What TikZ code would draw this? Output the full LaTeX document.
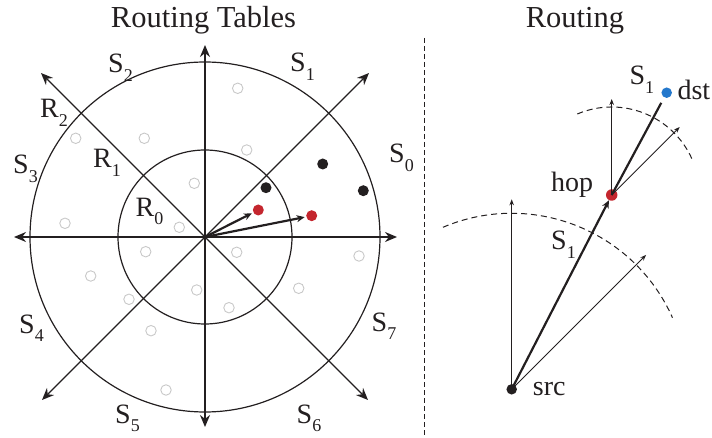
\documentclass[tikz,border=0pt]{standalone}
\usepackage{fontspec}
\setmainfont{Liberation Serif}
\usetikzlibrary{arrows.meta,calc}
\definecolor{ink}{RGB}{35,31,32}
\definecolor{dotred}{RGB}{196,38,46}
\definecolor{dotblue}{RGB}{36,120,204}
\definecolor{hollowgray}{RGB}{200,200,200}
\newcommand\subs[1]{\raisebox{-8.5pt}{\fontsize{18}{18}\selectfont #1}}
\tikzset{
  lab/.style={inner sep=0pt, anchor=base west, font=\fontsize{28}{28}\selectfont, text=ink},
  ttl/.style={inner sep=0pt, anchor=base, font=\fontsize{30.5}{31}\selectfont, text=ink},
  axis/.style={draw=ink, line width=1.4pt, -{Stealth[length=12pt,width=10pt]}},
  ring/.style={draw=ink, line width=1.2pt},
  thickarr/.style={draw=ink, line width=2.2pt, -{Stealth[length=8pt,width=7pt]}},
  thinarr/.style={draw=ink, line width=0.9pt, -{Stealth[length=6pt,width=4.5pt]}},
  dasharc/.style={draw=ink, line width=1pt, dash pattern=on 6pt off 4pt},
  hollow/.style={circle, draw=hollowgray, line width=0.9pt, minimum size=10.5pt, inner sep=0pt},
  dotb/.style={circle, fill=ink, minimum size=11pt, inner sep=0pt},
  dotr/.style={circle, fill=dotred, minimum size=11pt, inner sep=0pt},
  dotu/.style={circle, fill=dotblue, minimum size=10.5pt, inner sep=0pt},
}
\begin{document}
\begin{tikzpicture}[x=1pt,y=-1pt]
\useasboundingbox (0,0) rectangle (712,438);
% titles
\node[ttl] (t1) at (203.5,28) {Routing Tables};
\node[ttl] (t2) at (575,28) {Routing};
% ---- left: routing tables ----
\coordinate (o) at (205,237);
\draw[ring] (o) circle[radius=175pt];
\draw[ring] (o) circle[radius=87pt];
\coordinate (tN) at (205,45);
\coordinate (tS) at (205,427);
\coordinate (tW) at (14,237);
\coordinate (tE) at (397,237);
\coordinate (tNE) at (369,73);
\coordinate (tNW) at (41,73);
\coordinate (tSW) at (42,400);
\coordinate (tSE) at (368,400);
\foreach \t in {tN,tS,tW,tE,tNE,tNW,tSW,tSE} \draw[axis] (o) -- (\t);
% hollow nodes
\foreach \p [count=\i] in {(237.7,88.3),(75.7,138.3),(144.3,138.3),(246.7,150),(194.3,183.3),(65,223.3),(179.3,227.3),(145.7,251.7),(236.7,252.3),(359,256),(90.7,276),(196.7,290),(298.7,288.3),(129,299.3),(229,307.7),(151,330.7),(166,390)}
  \node[hollow] (g\i) at \p {};
% black and red nodes
\node[dotb] (b1) at (266,187.7) {};
\node[dotb] (b2) at (322.7,164) {};
\node[dotb] (b3) at (363.3,190.7) {};
\node[dotr] (r1) at (258.3,210) {};
\node[dotr] (r2) at (311.7,215.7) {};
\draw[thickarr, shorten >=1.5pt] (o) -- (r1);
\draw[thickarr, shorten >=1.5pt] (o) -- (r2);
% labels
\node[lab] (lS0) at (389,163) {S\subs{0}};
\node[lab] (lS1) at (290,72) {S\subs{1}};
\node[lab] (lS2) at (108,73) {S\subs{2}};
\node[lab] (lS3) at (13,174) {S\subs{3}};
\node[lab] (lS4) at (19,333) {S\subs{4}};
\node[lab] (lS5) at (115,423) {S\subs{5}};
\node[lab] (lS6) at (296.5,423) {S\subs{6}};
\node[lab] (lS7) at (371.5,331) {S\subs{7}};
\node[lab] (lR2) at (40,118) {R\subs{2}};
\node[lab] (lR1) at (93,168) {R\subs{1}};
\node[lab] (lR0) at (135.5,216.5) {R\subs{0}};
% divider
\coordinate (d1) at (424,38);
\coordinate (d2) at (424,438);
\draw[draw=ink, line width=1pt, dash pattern=on 5pt off 3pt] (d1) -- (d2);
% ---- right: routing ----
\node[dotb, minimum size=10.5pt] (src) at (511.7,389.3) {};
\node[dotr, minimum size=11.5pt] (hop) at (611.7,195) {};
\node[dotu] (dst) at (666.7,92.7) {};
\draw[dasharc] ([shift={(113:176pt)}]src.center) arc[start angle=113, end angle=24, radius=176pt];
\draw[dasharc] ([shift={(113:88pt)}]hop.center) arc[start angle=113, end angle=24, radius=88pt];
\coordinate (sv) at (511.7,199.3);
\coordinate (sd) at (646.1,254.9);
\coordinate (hv) at (611.7,99);
\coordinate (hd) at (679.7,127);
\draw[thinarr] (src.center) -- (sv);
\draw[thinarr] (src.center) -- (sd);
\draw[thinarr] (hop.center) -- (hv);
\draw[thinarr] (hop.center) -- (hd);
\draw[thickarr] (src.center) -- (hop);
\draw[draw=ink, line width=2.2pt] (hop.center) -- ($(dst.center)!11.5pt!(hop.center)$);
\node[lab] (lS1b) at (629.3,85) {S\subs{1}};
\node[lab] (lS1c) at (551,250) {S\subs{1}};
\node[lab] (ldst) at (677.3,99.3) {dst};
\node[lab] (lhop) at (551,191.7) {hop};
\node[lab] (lsrc) at (532.7,395) {src};
\end{tikzpicture}
\end{document}
